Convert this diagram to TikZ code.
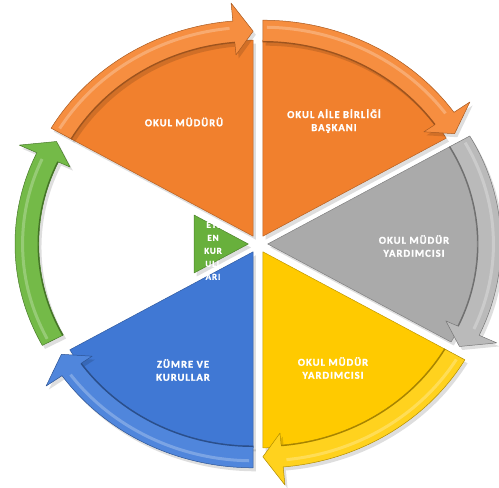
\documentclass[tikz,border=0pt]{standalone}
\usepackage{fontspec}
\newfontfamily\lbl[LetterSpace=10,BoldFeatures={FakeBold=1.6}]{Carlito}
\definecolor{orgA}{RGB}{241,128,45}
\definecolor{orgL}{RGB}{246,142,64}
\definecolor{gryA}{RGB}{170,170,170}
\definecolor{gryL}{RGB}{186,186,186}
\definecolor{ylwA}{RGB}{255,202,0}
\definecolor{ylwL}{RGB}{255,210,30}
\definecolor{bluA}{RGB}{64,120,212}
\definecolor{bluL}{RGB}{80,134,220}
\definecolor{grnA}{RGB}{104,176,60}
\definecolor{grnL}{RGB}{116,186,72}
\newcommand\wedgebody[5]{%
 \begin{scope}[shift={(#1:9)}]
  \fill[black,opacity=0.13,shift={(2.5,-3.5)}] (0,0) -- (#2:#4) arc[start angle=#2,end angle=#3,radius=#4] -- cycle;
  \filldraw[fill=#5A,draw=#5A!75!black,line width=0.5,line join=round] (0,0) -- (#2:#4) arc[start angle=#2,end angle=#3,radius=#4] -- cycle;
 \end{scope}}
\newcommand\bandarrow[4]{%
 \begin{scope}[shift={(#1:9)}]
  \fill[black,opacity=0.13,shift={(2.5,-3.5)}] (#3:194) -- (#3:216) arc[start angle=#3,end angle=#2+5,radius=216] -- (#2+5:234) -- (#2:205) -- (#2+5:182) -- (#2+5:194) arc[start angle=#2+5,end angle=#3,radius=194] -- cycle;
  \filldraw[fill=#4L,draw=#4A!70!black,line width=0.5,line join=round] (#3:194) -- (#3:216) arc[start angle=#3,end angle=#2+5,radius=216] -- (#2+5:234) -- (#2:205) -- (#2+5:182) -- (#2+5:194) arc[start angle=#2+5,end angle=#3,radius=194] -- cycle;
  \draw[#4A!65!black,line width=1.2] (#2+5:194.6) arc[start angle=#2+5,end angle=#3,radius=194.6];
  \draw[white,opacity=0.25,line width=3] (#3-1:209) arc[start angle=#3-1,end angle=#2+6,radius=209];
 \end{scope}}
\tikzset{lab/.style={text=white,align=center,font=\lbl\bfseries\fontsize{10.5}{13}\selectfont}}
\begin{document}
\begin{tikzpicture}[x=1pt,y=1pt]
\useasboundingbox (0,0) rectangle (499,488);
\begin{scope}[shift={(258,244)},xscale=1.08]
 \wedgebody{120}{90}{150}{196}{org}
 \wedgebody{60}{30}{90}{196}{org}
 \wedgebody{0}{-30}{30}{196}{gry}
 \wedgebody{-60}{-90}{-30}{196}{ylw}
 \wedgebody{-120}{-150}{-90}{196}{blu}
 \begin{scope}[shift={(180:9)}]
  \fill[black,opacity=0.13,shift={(2.5,-3.5)}] (0,0) -- (150:58) -- (210:58) -- cycle;
  \filldraw[fill=grnA,draw=grnA!75!black,line width=0.5,line join=round] (0,0) -- (150:58) -- (210:58) -- cycle;
 \end{scope}
 \bandarrow{120}{90}{150}{org}
 \bandarrow{60}{30}{90}{org}
 \bandarrow{0}{-30}{30}{gry}
 \bandarrow{-60}{-90}{-30}{ylw}
 \bandarrow{-120}{-150}{-90}{blu}
 \bandarrow{180}{150}{208}{grn}
\end{scope}
\node[lab] (m1) at (184,366) {OKUL MÜDÜRÜ};
\node[lab] (m2) at (334,367) {OKUL AİLE BİRLİĞİ\\BAŞKANI};
\node[lab] (m3) at (414,242) {OKUL MÜDÜR\\YARDIMCISI};
\node[lab] (m4) at (333,120) {OKUL MÜDÜR\\YARDIMCISI};
\node[lab] (m5) at (183,118) {ZÜMRE VE\\KURULLAR};
\node[lab,font=\lbl\bfseries\fontsize{9}{13}\selectfont] (m6) at (213,238) {ETİ\\EN\\KUR\\ULL\\ARI};
\end{tikzpicture}
\end{document}
